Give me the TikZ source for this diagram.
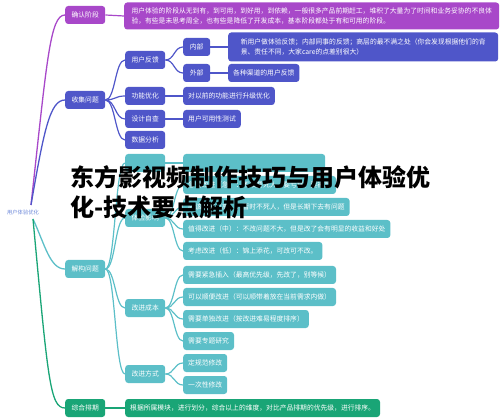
\documentclass[tikz,border=0pt]{standalone}
\usepackage{fontspec}
\setmainfont{Noto Sans CJK SC}
\definecolor{cpurple}{HTML}{A848C9}
\definecolor{cblue}{HTML}{4F56C9}
\definecolor{cteal}{HTML}{5CBFC8}
\definecolor{cgreen}{HTML}{19A576}
\definecolor{croot}{HTML}{6A86D8}
\tikzset{
  box/.style={rounded corners=3pt, text=white, font=\fontsize{6.8}{10}\selectfont,
    inner xsep=5pt, inner ysep=0pt, minimum height=18pt, anchor=west, align=left},
  pbox/.style={box, fill=cpurple},
  bbox/.style={box, fill=cblue},
  tbox/.style={box, fill=cteal},
  gbox/.style={box, fill=cgreen},
  wide/.style={minimum width=40pt, align=center},
  pline/.style={draw=cpurple, line width=1.3pt},
  bline/.style={draw=cblue, line width=1.2pt},
  tline/.style={draw=cteal, line width=1.2pt},
  gline/.style={draw=cgreen, line width=1.3pt},
  bigtitle/.style={font=\fontsize{24}{30}\selectfont\bfseries, text=black, anchor=west, inner sep=0pt}
}
\begin{document}
\begin{tikzpicture}[x=1pt,y=-1pt]
\useasboundingbox (0,0) rectangle (500,419);
% root
\node[font=\fontsize{5.3}{6}\selectfont, text=croot, inner sep=0pt] (root) at (23,212) {用户体验优化};
\coordinate (ru) at (31,205);
\coordinate (rd) at (33,219);
% level 1
\node[pbox, wide] (c1) at (65,15) {确认阶段};
\node[bbox, wide] (c2) at (65,100) {收集问题};
\node[tbox, wide] (c3) at (65,269) {解构问题};
\node[gbox, wide] (c4) at (65,408) {综合排期};
% purple branch
\node[pbox, minimum height=27pt, minimum width=375pt] (p1) at (124,16) {用户体验的阶段从无到有，到可用，到好用，到依赖，一般很多产品前期赶工，堆积了大量为了时间和业务妥协的不良体\\验，有些是未思考周全，也有些是降低了开发成本，基本阶段都处于有和可用的阶段。};
% blue branch
\node[bbox, wide] (b1) at (125,60) {用户反馈};
\node[bbox, wide] (b2) at (125,96) {功能优化};
\node[bbox, wide] (b3) at (125,119) {设计自查};
\node[bbox, wide] (b4) at (125,140) {数据分析};
\node[bbox, minimum width=27pt] (b11) at (183,47) {内部};
\node[bbox, minimum width=27pt] (b12) at (183,73) {外部};
\node[bbox, minimum height=29pt, minimum width=270pt] (b111) at (228,47) {新用户做体验反馈；内部同事的反馈；高层的最不满之处（你会发现根据他们的背\\景、责任不同，大家care的点差别很大）};
\node[bbox] (b121) at (228,73) {各种渠道的用户反馈};
\node[bbox] (b21) at (183,96) {对以前的功能进行升级优化};
\node[bbox] (b31) at (183,119) {用户可用性测试};
% teal branch
\node[tbox, wide] (t0) at (125,163) {};
\node[tbox, wide] (t1) at (125,218) {体验影响};
\node[tbox, wide] (t2) at (125,308) {改进成本};
\node[tbox, wide] (t3) at (125,374) {改进方式};
\node[tbox, minimum width=142pt] (t01) at (183,163) {};
\node[tbox] (t11) at (183,185) {急需改进（急）：不改要死人，要亏钱，要被骂};
\node[tbox] (t12) at (183,207) {应该改进（高）：暂时不死人，但是长期下去有问题};
\node[tbox] (t13) at (183,229) {值得改进（中）：不改问题不大，但是改了会有明显的收益和好处};
\node[tbox] (t14) at (183,251) {考虑改进（低）：锦上添花，可改可不改。};
\node[tbox] (t21) at (183,275) {需要紧急插入（最高优先级，先改了，别等候）};
\node[tbox] (t22) at (183,297) {可以顺便改进（可以顺带着放在当前需求内做）};
\node[tbox] (t23) at (183,319) {需要单独改进（按改进难易程度排序）};
\node[tbox] (t24) at (183,341) {需要专题研究};
\node[tbox] (t31) at (183,363) {定规范修改};
\node[tbox] (t32) at (183,385) {一次性修改};
% green branch
\node[gbox] (g1) at (125,408) {根据所属模块，进行划分，综合以上的维度，对比产品排期的优先级，进行排序。};
% connectors root -> level 1
\begin{scope}[on background layer/.style={}]
\draw[pline] (ru) .. controls (47,60) and (50,15) .. (c1.west);
\draw[bline, line width=1.3pt] (ru) .. controls (44,130) and (50,100) .. (c2.west);
\draw[tline, line width=1.3pt] (rd) .. controls (45,245) and (50,269) .. (c3.west);
\draw[gline] (rd) .. controls (48,380) and (50,408) .. (c4.west);
\end{scope}
% level 1 -> level 2
\draw[pline, line width=1.2pt] (c1.east) -- (p1.west);
\foreach \c in {b1,b2,b3,b4}
  \draw[bline] (c2.east) .. controls +(10,0) and +(-10,0) .. (\c.west);
\foreach \c in {t0,t1,t2,t3}
  \draw[tline] (c3.east) .. controls +(10,0) and +(-10,0) .. (\c.west);
\draw[gline, line width=1.2pt] (c4.east) -- (g1.west);
% level 2 -> level 3
\foreach \c in {b11,b12}
  \draw[bline] (b1.east) .. controls +(9,0) and +(-9,0) .. (\c.west);
\draw[bline] (b2.east) -- (b21.west);
\draw[bline] (b3.east) -- (b31.west);
\draw[bline] (b11.east) -- (b111.west);
\draw[bline] (b12.east) -- (b121.west);
\draw[tline] (t0.east) -- (t01.west);
\foreach \c in {t11,t12,t13,t14}
  \draw[tline] (t1.east) .. controls +(9,0) and +(-9,0) .. (\c.west);
\foreach \c in {t21,t22,t23,t24}
  \draw[tline] (t2.east) .. controls +(9,0) and +(-9,0) .. (\c.west);
\foreach \c in {t31,t32}
  \draw[tline] (t3.east) .. controls +(9,0) and +(-9,0) .. (\c.west);
% title overlay
\node[bigtitle] (title1) at (70,177) {东方影视频制作技巧与用户体验优};
\node[bigtitle] (title2) at (70,207) {化-技术要点解析};
\end{tikzpicture}
\end{document}
